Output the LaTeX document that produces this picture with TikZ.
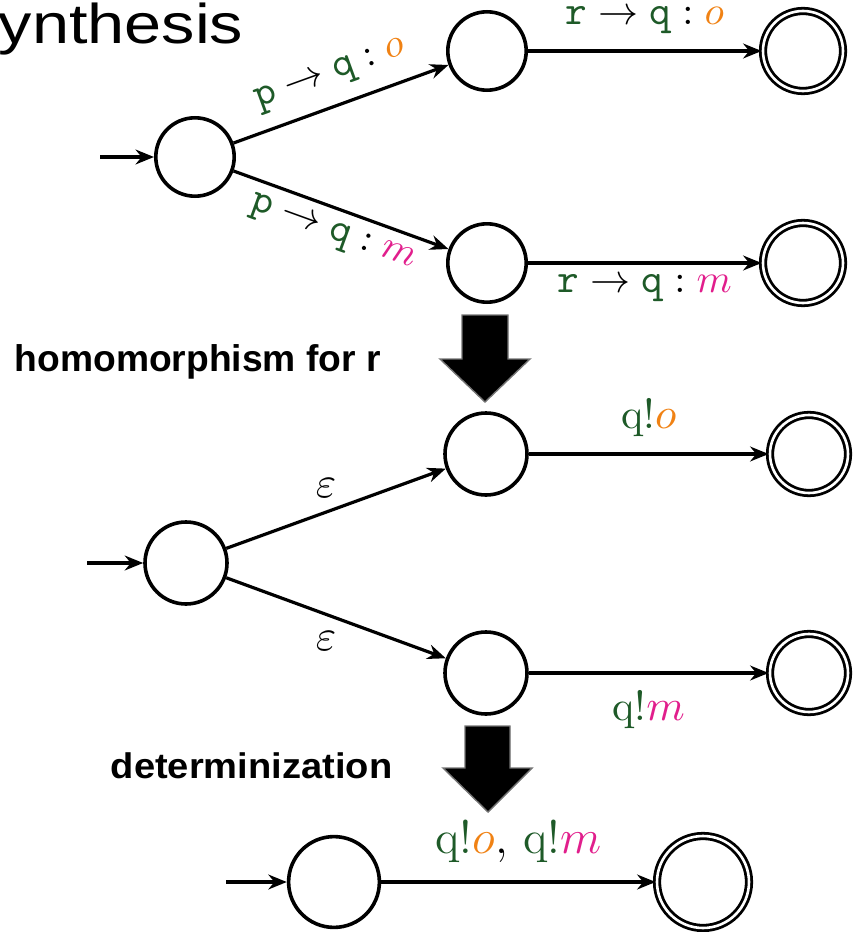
\documentclass[tikz,border=0pt]{standalone}
\usepackage{fontspec}
\usepackage{graphicx}
\newfontfamily\headfont{Liberation Sans}
\usetikzlibrary{arrows.meta}
\definecolor{lblgreen}{RGB}{30,90,40}
\definecolor{lblorange}{RGB}{240,130,20}
\definecolor{lblmagenta}{RGB}{225,30,140}
% channel names in typewriter green, messages in colour
\newcommand\chan[1]{{\color{lblgreen}\mathtt{#1}}}
\newcommand\msgo{{\color{lblorange}o}}
\newcommand\msgm{{\color{lblmagenta}m}}
\newcommand\snd{{\color{lblgreen}q!}}
% slide heading, set a little wide
\newcommand\widetext[2]{\scalebox{#1}[1]{#2}}

\begin{document}
\begin{tikzpicture}[x=0.25pt,y=-0.25pt,
  state/.style={circle,draw,line width=0.9pt,inner sep=0pt,minimum size=#1},
  state/.default=20pt,
  accept/.style={circle,draw,double,double distance=0.65pt,line width=0.7pt,
                 inner sep=0pt,minimum size=#1},
  accept/.default=20pt,
  trans/.style={-{Stealth[length=4.6pt,width=3.7pt]},line width=0.8pt},
  toplbl/.style={font=\fontsize{10.3}{12}\selectfont,inner sep=0pt},
  midlbl/.style={font=\fontsize{10.5}{12}\selectfont,inner sep=0pt},
  botlbl/.style={font=\fontsize{11.7}{14}\selectfont,inner sep=0pt},
  stepname/.style={font=\headfont\bfseries\fontsize{9.3}{11}\selectfont,
                   anchor=base west,inner sep=0pt},
  bigarrow/.style={fill=black,draw=black!55,line width=0.35pt}]

\path[use as bounding box] (0,0) rectangle (853,932);

% heading
\node[anchor=base west,inner sep=0pt,font=\headfont\fontsize{14}{16}\selectfont]
  (title) at (-2,43) {\widetext{1.19}{ynthesis}};

% ---------- original automaton ----------
\node[state=19.6pt] (s0) at (195,157) {};
\node[state=19.6pt] (a1) at (487,51) {};
\node[state=19.6pt] (a2) at (487,263) {};
\node[accept=20pt] (f1) at (803,51) {};
\node[accept=20pt] (f2) at (803,263) {};
\coordinate (i0) at (100,157);

\draw[trans] (i0) -- (s0);
\draw[trans] (s0) -- node[toplbl,sloped,above=3.6pt]
  {$\chan{p}\rightarrow\chan{q}:\msgo$} (a1);
\draw[trans] (s0) -- node[toplbl,sloped,below=2.6pt]
  {$\chan{p}\rightarrow\chan{q}:\msgm$} (a2);
\draw[trans] (a1) -- node[toplbl,above=4pt]
  {$\chan{r}\rightarrow\chan{q}:\msgo$} (f1);
\draw[trans] (a2) -- node[toplbl,below=2.5pt]
  {$\chan{r}\rightarrow\chan{q}:\msgm$} (f2);

% first transformation step
\draw[bigarrow] (462,315) -- (508,315) -- (508,359) -- (530,359) -- (485,402)
  -- (440,359) -- (462,359) -- cycle;
\node[stepname] (hom) at (14,371) {homomorphism for r};

% ---------- after the homomorphism ----------
\node[state=20.5pt] (m0) at (186,563) {};
\node[state=20.5pt] (b1) at (486,454) {};
\node[state=20.5pt] (b2) at (486,673) {};
\node[accept=19.5pt] (g1) at (809,454) {};
\node[accept=19.5pt] (g2) at (809,673) {};
\coordinate (i1) at (87,563);

\draw[trans] (i1) -- (m0);
\draw[trans] (m0) -- node[midlbl,shift={(-2.5pt,5.1pt)}] {$\varepsilon$} (b1);
\draw[trans] (m0) -- node[midlbl,shift={(-2.5pt,-5.7pt)}] {$\varepsilon$} (b2);
\draw[trans] (b1) -- node[midlbl,above=4pt] {\snd$\msgo$} (g1);
\draw[trans] (b2) -- node[midlbl,below=4pt] {\snd$\msgm$} (g2);

% second transformation step
\draw[bigarrow] (465,726) -- (510,726) -- (510,768) -- (532,768) -- (488,812)
  -- (443,768) -- (465,768) -- cycle;
\node[stepname,font=\headfont\bfseries\fontsize{8.9}{11}\selectfont]
  (det) at (110,778) {\widetext{1.07}{determinization}};

% ---------- deterministic automaton ----------
\node[state=22.7pt] (c0) at (334,882) {};
\node[accept=23pt] (h0) at (703,882) {};
\coordinate (i2) at (226,882);

\draw[trans] (i2) -- (c0);
\draw[trans] (c0) -- node[botlbl,above=4.5pt] {\snd$\msgo$, \snd$\msgm$} (h0);

\end{tikzpicture}
\end{document}
